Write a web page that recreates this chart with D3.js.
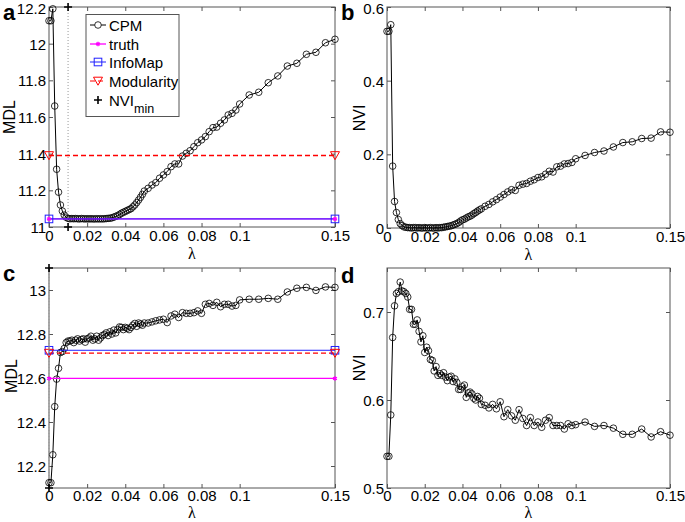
<!DOCTYPE html>
<html><head><meta charset="utf-8">
<script src="https://cdn.jsdelivr.net/npm/d3@7"></script>
<style>
body{margin:0;background:#fff}
text{font-family:"Liberation Sans",Arial,sans-serif}
</style>
</head><body><svg id="chart" width="685" height="522"></svg>
<script>
// ---- data ----
const lambda = [0,0.001,0.002,0.003,0.004,0.005,0.006,0.007,0.008,0.009,
  0.010,0.011,0.012,0.013,0.014,0.015,0.016,0.017,0.018,0.019,
  0.020,0.021,0.022,0.023,0.024,0.025,0.026,0.027,0.028,0.029,
  0.030,0.031,0.032,0.033,0.034,0.035,0.036,0.037,0.038,0.039,
  0.040,0.041,0.042,0.043,0.044,0.045,0.046,0.047,0.048,0.049,
  0.050,
  0.052,0.054,0.056,0.058,0.060,0.062,0.064,0.066,0.068,0.070,
  0.072,0.074,0.076,0.078,0.080,0.082,0.084,0.086,0.088,0.090,
  0.092,0.094,0.096,0.098,0.100,
  0.105,0.110,0.115,0.120,0.125,0.130,0.135,0.140,0.145,0.150];

const mdlA = [12.125,12.125,12.19,11.66,11.315,11.19,11.12,11.087,11.065,11.053,
  11.047,11.045,11.046,11.045,11.046,11.045,11.044,11.046,11.045,11.044,
  11.045,11.044,11.045,11.044,11.044,11.045,11.044,11.045,11.044,11.045,
  11.046,11.047,11.048,11.050,11.054,11.058,11.062,11.068,11.075,11.080,
  11.085,11.090,11.095,11.100,11.110,11.120,11.133,11.147,11.162,11.178,
  11.196,
  11.211,11.229,11.242,11.266,11.284,11.302,11.329,11.344,11.344,11.387,
  11.402,11.416,11.438,11.460,11.475,11.493,11.520,11.542,11.545,11.566,
  11.584,11.611,11.620,11.638,11.671,
  11.720,11.735,11.787,11.824,11.878,11.893,11.942,11.953,12.005,12.024];

const nviB = [0.534,0.534,0.552,0.168,0.072,0.042,0.023,0.012,0.0065,0.003,
  0.002,0.001,0.001,0.000,0.001,0.001,0.000,0.001,0.000,0.000,
  0.001,0.000,0.000,0.001,0.000,0.000,0.001,0.000,0.001,0.001,
  0.002,0.003,0.004,0.005,0.006,0.008,0.010,0.012,0.015,0.019,
  0.022,0.024,0.027,0.030,0.032,0.035,0.039,0.042,0.046,0.049,
  0.052,
  0.059,0.064,0.071,0.077,0.084,0.091,0.098,0.104,0.102,0.116,
  0.119,0.121,0.127,0.131,0.137,0.139,0.146,0.154,0.152,0.166,
  0.168,0.174,0.175,0.178,0.188,
  0.197,0.205,0.209,0.220,0.232,0.234,0.243,0.244,0.261,0.260];

const mdlC = [12.124,12.124,12.251,12.470,12.595,12.644,12.716,12.720,12.734,12.761,
  12.768,12.768,12.772,12.761,12.772,12.778,12.768,12.775,12.778,12.763,
  12.778,12.782,12.790,12.772,12.778,12.790,12.772,12.782,12.793,12.797,
  12.805,12.793,12.810,12.800,12.818,12.805,12.820,12.832,12.830,12.820,
  12.830,12.826,12.820,12.830,12.840,12.848,12.835,12.850,12.845,12.840,
  12.850,
  12.850,12.855,12.860,12.864,12.867,12.852,12.882,12.890,12.875,12.897,
  12.894,12.894,12.897,12.905,12.894,12.935,12.939,12.930,12.944,12.924,
  12.935,12.935,12.927,12.930,12.955,
  12.958,12.958,12.962,12.958,12.991,13.008,13.012,12.998,13.014,13.012];

const nviD = [0.536,0.536,0.583,0.671,0.707,0.721,0.723,0.734,0.724,0.723,
  0.721,0.717,0.703,0.703,0.686,0.686,0.691,0.678,0.666,0.673,
  0.654,0.660,0.656,0.646,0.645,0.633,0.638,0.628,0.630,0.628,
  0.631,0.626,0.622,0.626,0.627,0.621,0.624,0.620,0.612,0.612,
  0.615,0.617,0.603,0.608,0.609,0.607,0.602,0.600,0.604,0.602,
  0.595,
  0.594,0.591,0.595,0.590,0.598,0.581,0.589,0.582,0.577,0.589,
  0.579,0.571,0.580,0.571,0.575,0.569,0.577,0.580,0.571,0.571,
  0.571,0.567,0.573,0.571,0.572,
  0.575,0.570,0.571,0.568,0.561,0.561,0.567,0.558,0.564,0.560];

// reference methods (top network, bottom network)
const truthMDL = [11.044, 12.598];
const infomapMDL = [11.044, 12.726];
const modularityMDL = [11.39, 12.713];
const nviMinLambda = [0.01, 0.0];
const refLambda = [0, 0.15];

const xTicks = [0,0.02,0.04,0.06,0.08,0.1,0.15];
const xTickLabels = ["0","0.02","0.04","0.06","0.08","0.1","0.15"];
const yTicksA = [11,11.2,11.4,11.6,11.8,12,12.2];
const yTicksB = [0,0.2,0.4,0.6];
const yTicksC = [12.2,12.4,12.6,12.8,13];
const yTicksD = [0.5,0.6,0.7];
const legendLabels = ["CPM","truth","InfoMap","Modularity","NVI"];

// ---- drawing ----
const svg = d3.select("#chart");
const SPINE = "#555";
const TICKFONT = "15px";
const RED = "#ff0000";

function makePanel(cfg){
  const g = svg.append("g");
  const x = d3.scaleLinear().domain([0,0.15]).range([cfg.left, cfg.right]);
  const y = d3.scaleLinear().domain(cfg.yDomain).range([cfg.bottom, cfg.top]);

  const ax = d3.axisBottom(x).tickValues(xTicks).tickFormat((d,i)=>xTickLabels[i])
    .tickSizeInner(-4).tickSizeOuter(0).tickPadding(cfg.xpad);
  const gx = g.append("g").attr("transform",`translate(0,${cfg.bottom})`).call(ax);
  const axT = d3.axisTop(x).tickValues(xTicks).tickFormat("").tickSizeInner(-4).tickSizeOuter(0);
  const gxt = g.append("g").attr("transform",`translate(0,${cfg.top})`).call(axT);
  const ay = d3.axisLeft(y).tickValues(cfg.yTicks).tickFormat(d=>d3.format("")(+d.toFixed(2)))
    .tickSizeInner(-4).tickSizeOuter(0).tickPadding(3);
  const gy = g.append("g").attr("transform",`translate(${cfg.left},0)`).call(ay);
  const ayR = d3.axisRight(y).tickValues(cfg.yTicks).tickFormat("").tickSizeInner(-4).tickSizeOuter(0);
  const gyr = g.append("g").attr("transform",`translate(${cfg.right},0)`).call(ayR);
  [gx,gxt,gy,gyr].forEach(s=>{
    s.select(".domain").remove();
    s.selectAll(".tick line").attr("stroke",SPINE);
    s.selectAll(".tick text").attr("fill","#000").style("font-size",TICKFONT)
      .style("font-family",'"Liberation Sans",Arial,sans-serif');
  });
  const top = cfg.yTicks[cfg.yTicks.length-1];
  gy.selectAll(".tick text").attr("dy", d => (d===top && y(d)-cfg.top < 2) ? "0.46em" : "0.36em");
  g.append("rect").attr("x",cfg.left).attr("y",cfg.top)
    .attr("width",cfg.right-cfg.left).attr("height",cfg.bottom-cfg.top)
    .attr("fill","none").attr("stroke",SPINE).attr("stroke-width",1);

  // CPM curve
  const line = d3.line().x((d,i)=>x(lambda[i])).y(d=>y(d));
  g.append("path").attr("d",line(cfg.values)).attr("fill","none")
    .attr("stroke","#000").attr("stroke-width",1);
  g.append("g").selectAll("circle").data(cfg.values).join("circle")
    .attr("cx",(d,i)=>x(lambda[i])).attr("cy",d=>y(d)).attr("r",3.3)
    .attr("fill","none").attr("stroke","#000").attr("stroke-width",0.8);

  if (cfg.ref !== undefined){
    const k = cfg.ref;
    const hline = v => d3.line().x((d)=>x(d)).y(()=>y(v))(refLambda);
    // truth
    g.append("path").attr("d",hline(truthMDL[k])).attr("stroke","#ff00ff").attr("stroke-width",1.3).attr("fill","none");
    // InfoMap
    g.append("path").attr("d",hline(infomapMDL[k])).attr("stroke","#2020ff").attr("stroke-width",1).attr("fill","none");
    // Modularity
    g.append("path").attr("d",hline(modularityMDL[k])).style("stroke",RED).attr("stroke-width",1.3)
      .attr("stroke-dasharray","5,3").attr("fill","none");
    refLambda.forEach(l=>{
      drawSquare(g, x(l), y(infomapMDL[k]));
      drawTri(g, x(l), y(modularityMDL[k]));
      drawStar(g, x(l), y(truthMDL[k]));
    });
    // NVI min
    const xm = x(nviMinLambda[k]);
    g.append("line").attr("x1",xm).attr("x2",xm).attr("y1",cfg.top).attr("y2",cfg.bottom)
      .attr("stroke","#999").attr("stroke-dasharray","1,2").attr("stroke-width",1);
    drawPlus(g, xm, y(cfg.yDomain[1]));
    drawPlus(g, xm, y(cfg.yDomain[0]));
  }

  // labels
  g.append("text").attr("transform",`translate(${cfg.ylabX},${cfg.ylabY}) rotate(-90)`)
    .attr("text-anchor","middle").style("font-size","16px").text(cfg.ylabel);
  g.append("text").attr("x",(cfg.left+cfg.right)/2).attr("y",cfg.xlabY)
    .attr("text-anchor","middle").style("font-size","16px")
    .style("font-family",'"Liberation Serif","Times New Roman",serif').text("λ");
  g.append("text").attr("x",cfg.letX).attr("y",cfg.letY)
    .style("font-size","22px").style("font-weight","bold").text(cfg.letter);
  return {g,x,y};
}

function drawSquare(g,cx,cy){
  g.append("rect").attr("x",cx-3.8).attr("y",cy-3.8).attr("width",7.6).attr("height",7.6)
    .attr("fill","none").attr("stroke","#2020ff").attr("stroke-width",1);
}
function drawTri(g,cx,cy){
  g.append("path").attr("d",`M${cx-4.5},${cy-3.8}L${cx+4.5},${cy-3.8}L${cx},${cy+4.2}Z`)
    .attr("fill","none").style("stroke",RED).attr("stroke-width",1);
}
function drawStar(g,cx,cy){
  g.append("path").attr("transform",`translate(${cx},${cy})`)
    .attr("d",d3.symbol(d3.symbolAsterisk,14)())
    .attr("fill","none").attr("stroke","#ff00ff").attr("stroke-width",1.3);
  g.append("circle").attr("cx",cx).attr("cy",cy).attr("r",1.3).attr("fill","#ff00ff");
}
function drawPlus(g,cx,cy){
  g.append("path").attr("d",`M${cx-4},${cy}H${cx+4}M${cx},${cy-4}V${cy+4}`)
    .attr("stroke","#000").attr("stroke-width",1.6).attr("fill","none");
}

makePanel({left:49,right:335,top:7,bottom:227,yDomain:[11,12.2],yTicks:yTicksA,values:mdlA,ref:0,xpad:3,
  ylabel:"MDL",ylabX:15,ylabY:117,xlabY:259,letter:"a",letX:3,letY:20});
makePanel({left:387,right:670,top:7,bottom:228,yDomain:[0,0.6],yTicks:yTicksB,values:nviB,xpad:3,
  ylabel:"NVI",ylabX:365,ylabY:118,xlabY:260,letter:"b",letX:341,letY:20});
makePanel({left:49,right:335,top:268,bottom:488,yDomain:[12.1,13.1],yTicks:yTicksC,values:mdlC,ref:1,xpad:2,
  ylabel:"MDL",ylabX:17,ylabY:376,xlabY:518.3,letter:"c",letX:3,letY:281});
makePanel({left:387,right:670,top:268,bottom:488,yDomain:[0.5,0.75],yTicks:yTicksD,values:nviD,xpad:2,
  ylabel:"NVI",ylabX:365,ylabY:368,xlabY:518.3,letter:"d",letX:341,letY:283});

// legend (panel a)
const lg = svg.append("g");
lg.append("rect").attr("x",86).attr("y",14.5).attr("width",93).attr("height",102)
  .attr("fill","#fff").attr("stroke",SPINE).attr("stroke-width",1);
const rows = [25,44,62,81,100];
const lx0 = 90, lx1 = 106, lxm = 98, ltx = 109;
// CPM
lg.append("line").attr("x1",lx0).attr("x2",lx1).attr("y1",rows[0]).attr("y2",rows[0]).attr("stroke","#000");
lg.append("circle").attr("cx",lxm).attr("cy",rows[0]).attr("r",3.3).attr("fill","#fff").attr("stroke","#000").attr("stroke-width",0.8);
// truth
lg.append("line").attr("x1",lx0).attr("x2",lx1).attr("y1",rows[1]).attr("y2",rows[1]).attr("stroke","#ff00ff").attr("stroke-width",1.3);
drawStar(lg,lxm,rows[1]);
// InfoMap
lg.append("line").attr("x1",lx0).attr("x2",lx1).attr("y1",rows[2]).attr("y2",rows[2]).attr("stroke","#2020ff");
drawSquare(lg,lxm,rows[2]);
// Modularity
lg.append("line").attr("x1",lx0).attr("x2",lx1).attr("y1",rows[3]).attr("y2",rows[3]).style("stroke",RED).attr("stroke-dasharray","5,3");
drawTri(lg,lxm,rows[3]);
// NVI min
drawPlus(lg,lxm,rows[4]);
legendLabels.forEach((t,i)=>{
  const tx = lg.append("text").attr("x",ltx).attr("y",rows[i]+5.5).style("font-size","15px").text(t);
  if (i===4) tx.append("tspan").attr("dy",7).style("font-size","12.5px").text("min");
});
</script>
</body></html>
